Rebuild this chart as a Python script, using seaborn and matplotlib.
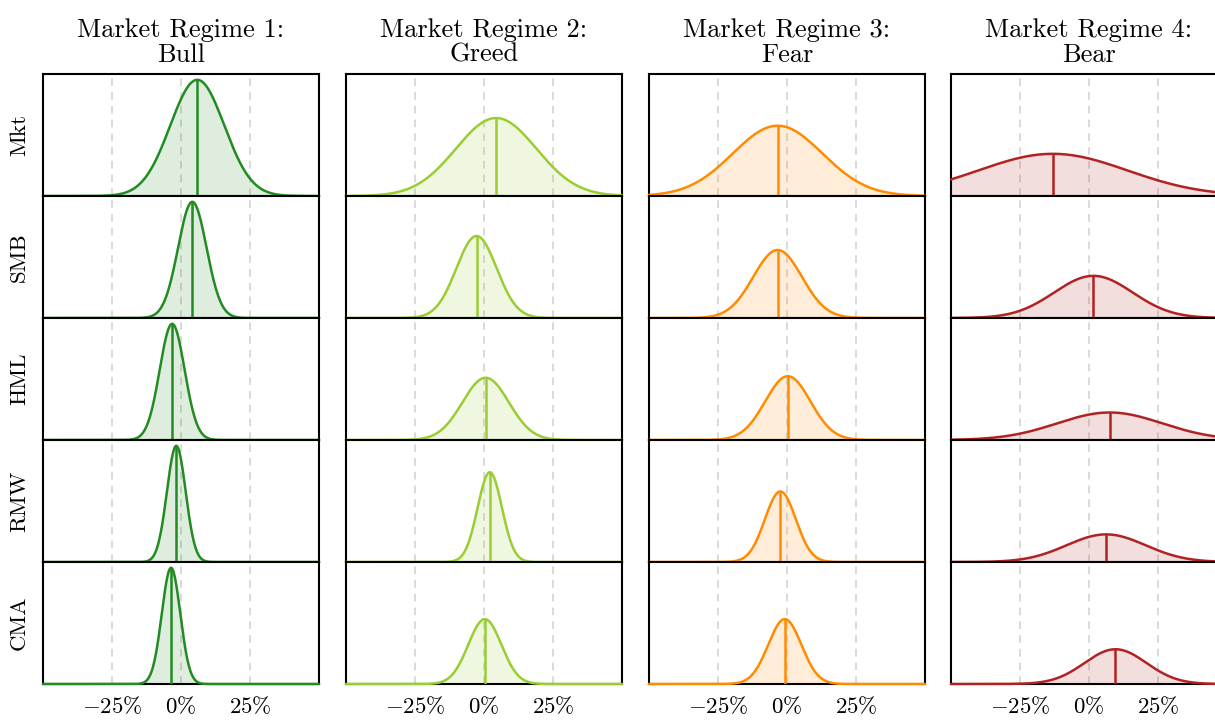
import numpy as np
import pandas as pd
import matplotlib
matplotlib.use("Agg")
import matplotlib.pyplot as plt
import seaborn as sns

# ---- data (returns in %) ----
factors = ["Mkt", "SMB", "HML", "RMW", "CMA"]
regimes = ["Market Regime 1:\nBull", "Market Regime 2:\nGreed",
           "Market Regime 3:\nFear", "Market Regime 4:\nBear"]
colors = ["#228B22", "#9ACD32", "#FF8C00", "#B22222"]

mean_bull = [5.9, 4.1, -3.2, -1.7, -3.6]
sd_bull = [9.8, 5.15, 4.5, 3.4, 3.35]
mean_greed = [4.4, -2.7, 0.6, 2.1, 0.3]
sd_greed = [14.6, 7.3, 8.4, 4.4, 6.0]
mean_fear = [-3.4, -3.4, 0.3, -2.4, -0.8]
sd_fear = [16.2, 8.8, 8.2, 5.6, 6.0]
mean_bear = [-13.1, 1.6, 7.5, 6.2, 9.6]
sd_bear = [27.0, 14.2, 19.0, 14.3, 11.2]

tick_vals = [-25, 0, 25]
tick_labels = [r"$-25\%$", r"$0\%$", r"$25\%$"]

means = [mean_bull, mean_greed, mean_fear, mean_bear]
sds = [sd_bull, sd_greed, sd_fear, sd_bear]

sns.set_theme(style="white")
plt.rcParams["font.family"] = ["serif"]
plt.rcParams["font.serif"] = ["cmr10", "DejaVu Serif"]
plt.rcParams["mathtext.fontset"] = "cm"
plt.rcParams["axes.formatter.use_mathtext"] = True
plt.rcParams["axes.unicode_minus"] = False
plt.rcParams["text.color"] = "black"
plt.rcParams["axes.labelcolor"] = "black"
plt.rcParams["xtick.color"] = "black"

W, H = 1215, 720
fig = plt.figure(figsize=(W / 100, H / 100), dpi=100)

x = np.linspace(-50, 50, 801)

def pdf(xx, m, s):
    return np.exp(-0.5 * ((xx - m) / s) ** 2) / (s * np.sqrt(2 * np.pi))

col_left = [43, 346, 649, 951]
ax_w = 276
top0 = 74
row_h = 122

for r, fac in enumerate(factors):
    row_max = max(pdf(means[c][r], means[c][r], sds[c][r]) for c in range(4))
    for c in range(4):
        left = col_left[c] / W
        bottom = (H - top0 - row_h * (r + 1)) / H
        ax = fig.add_axes([left, bottom, ax_w / W, row_h / H])
        m, s = means[c][r], sds[c][r]
        y = pdf(x, m, s)
        df = pd.DataFrame({"x": x, "y": y})
        ax.fill_between(x, 0, y, color=colors[c], alpha=0.15, linewidth=0, zorder=1)
        sns.lineplot(data=df, x="x", y="y", ax=ax, color=colors[c], linewidth=1.8)
        ln = ax.lines[-1]
        ln.set_zorder(3)
        ln.set_clip_on(False)
        ax.vlines(m, 0, pdf(m, m, s), color=colors[c], linewidth=1.8, zorder=3)
        ax.set_xlim(-50, 50)
        ax.set_ylim(0, row_max * 1.05)
        for tv in tick_vals:
            ax.axvline(tv, color="#d0d0d0", linestyle=(0, (5, 4)), linewidth=1.1, zorder=0)
        ax.set_yticks([])
        ax.set_xlabel("")
        ax.set_ylabel("")
        ax.tick_params(axis="both", length=0)
        if r == len(factors) - 1:
            ax.set_xticks(tick_vals)
            ax.set_xticklabels(tick_labels, fontsize=16.5)
            ax.tick_params(axis="x", pad=8)
        else:
            ax.set_xticks([])
        for sp in ax.spines.values():
            sp.set_color("black")
            sp.set_linewidth(1.5)
            sp.set_visible(True)
        if r == 0:
            ax.set_title(regimes[c], fontsize=19, pad=9, linespacing=1.05,
                         color="black")
        if c == 0:
            ax.set_ylabel(fac, fontsize=16.5, labelpad=10)

fig.savefig("out.png", dpi=100, facecolor="white")
